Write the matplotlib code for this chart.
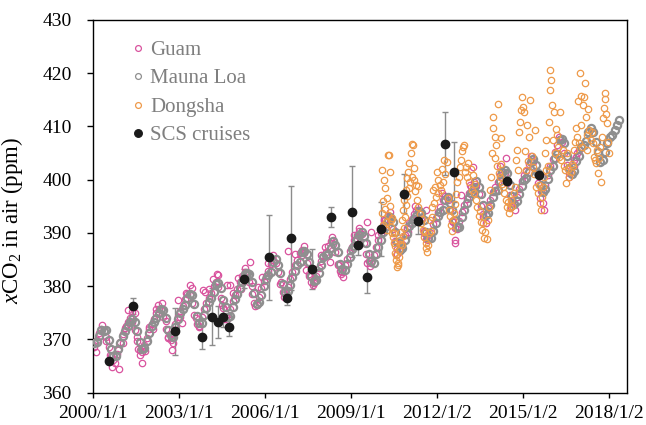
import numpy as np
import matplotlib
matplotlib.use("Agg")
import matplotlib.pyplot as plt

plt.rcParams['font.family'] = ['Liberation Serif', 'DejaVu Serif']
plt.rcParams['mathtext.fontset'] = 'custom'
plt.rcParams['mathtext.rm'] = 'Liberation Serif'
plt.rcParams['mathtext.it'] = 'Liberation Serif:italic'

# Mauna Loa monthly xCO2 (ppm), Jan 2000 - May 2018
mlo_vals = [
    369.25, 369.50, 370.56, 371.82, 371.51, 371.71, 369.85, 368.20, 366.91, 366.91, 368.16, 369.34,
    370.65, 371.52, 372.52, 373.37, 373.83, 373.19, 371.51, 369.61, 368.18, 368.45, 369.76, 371.24,
    372.53, 373.20, 374.12, 375.02, 375.76, 375.52, 374.01, 371.85, 370.75, 370.55, 372.25, 373.79,
    374.88, 375.64, 376.45, 377.73, 378.60, 378.28, 376.70, 374.38, 373.17, 373.14, 374.66, 375.99,
    377.00, 377.87, 378.88, 380.35, 380.62, 379.69, 377.47, 376.01, 374.25, 374.46, 376.16, 377.51,
    378.46, 379.73, 380.77, 382.29, 382.45, 382.21, 380.74, 378.74, 376.70, 377.00, 378.35, 380.11,
    381.38, 382.19, 382.67, 384.61, 385.03, 384.05, 382.46, 380.41, 378.85, 379.13, 380.15, 381.82,
    382.89, 383.90, 384.58, 386.50, 386.56, 386.10, 384.50, 381.99, 380.96, 381.12, 382.45, 383.95,
    385.52, 385.82, 386.03, 387.21, 388.54, 387.76, 386.36, 384.09, 383.18, 382.99, 384.19, 385.56,
    386.94, 387.48, 388.82, 389.55, 390.14, 389.48, 388.03, 386.11, 384.74, 384.43, 386.02, 387.42,
    388.71, 390.20, 391.17, 392.46, 393.00, 392.15, 390.20, 388.35, 386.85, 387.24, 388.67, 389.79,
    391.33, 391.86, 392.60, 393.25, 394.19, 393.74, 392.51, 390.13, 389.08, 389.00, 390.28, 391.86,
    393.12, 393.86, 394.40, 396.18, 396.74, 395.71, 394.36, 392.39, 391.11, 391.05, 392.98, 394.34,
    395.55, 396.80, 397.43, 398.41, 399.78, 398.61, 397.32, 395.20, 393.45, 393.70, 395.16, 396.84,
    397.85, 398.01, 399.77, 401.38, 401.78, 401.25, 399.10, 397.03, 395.38, 396.03, 397.28, 398.91,
    399.98, 400.28, 401.54, 403.28, 403.96, 402.80, 401.31, 398.93, 397.63, 398.29, 400.16, 401.85,
    402.56, 404.12, 404.87, 407.45, 407.72, 406.83, 404.41, 402.27, 401.05, 401.59, 403.55, 404.45,
    406.17, 406.46, 407.22, 409.04, 409.69, 408.88, 407.12, 405.13, 403.37, 403.63, 405.12, 406.81,
    407.96, 408.32, 409.41, 410.24, 411.24,
]

# Guam monthly xCO2 (ppm), Jan 2000 - Dec 2016
guam_vals = [
    368.6, 369.9, 371.2, 371.9, 371.6, 370.4, 368.6, 366.8, 366.2, 366.9, 368.1, 369.6,
    371.0, 372.1, 373.2, 374.0, 373.3, 371.8, 369.7, 368.0, 367.6, 368.9, 370.3, 371.9,
    372.9, 373.8, 374.9, 375.8, 375.6, 374.2, 372.0, 370.4, 369.9, 371.3, 372.9, 374.3,
    375.3, 376.3, 377.6, 378.6, 378.4, 376.9, 374.6, 372.9, 372.6, 374.2, 375.7, 376.9,
    377.7, 378.8, 380.1, 380.7, 379.9, 377.8, 375.9, 374.2, 374.1, 375.7, 377.2, 378.3,
    379.5, 380.7, 382.0, 382.6, 382.2, 380.8, 378.6, 376.8, 376.4, 377.9, 379.6, 380.9,
    382.0, 382.8, 384.1, 385.0, 384.4, 382.6, 380.4, 378.9, 378.6, 379.9, 381.4, 382.7,
    383.9, 384.9, 386.2, 386.8, 386.2, 384.3, 382.2, 380.7, 380.6, 381.9, 383.4, 384.8,
    385.7, 386.5, 387.6, 388.4, 387.9, 386.4, 384.2, 382.9, 382.7, 383.9, 385.2, 386.6,
    387.4, 388.6, 389.6, 390.4, 389.8, 388.2, 386.1, 384.7, 384.4, 385.8, 387.3, 388.7,
    389.9, 391.2, 392.5, 393.2, 392.6, 390.7, 388.4, 386.9, 386.6, 388.0, 389.6, 390.9,
    391.9, 392.7, 393.6, 394.3, 393.8, 392.4, 390.3, 388.9, 388.7, 390.0, 391.6, 392.9,
    393.9, 394.9, 396.2, 396.9, 396.1, 394.4, 392.3, 390.9, 390.8, 392.3, 393.9, 395.2,
    396.4, 397.5, 398.6, 399.6, 398.9, 397.3, 395.1, 393.5, 393.3, 394.7, 396.2, 397.6,
    398.6, 399.6, 400.9, 401.7, 401.2, 399.3, 397.1, 395.6, 395.4, 396.8, 398.3, 399.8,
    400.8, 401.7, 402.9, 403.9, 403.4, 401.6, 399.3, 397.8, 397.6, 399.1, 400.9, 402.6,
    403.9, 405.2, 406.6, 407.6, 407.1, 405.1, 402.7, 401.2, 401.0, 402.6, 404.3, 405.6,
]

# additional Guam flask samples scattered around the monthly curve
guam_extra_t = [2000.65, 2000.77, 2000.92, 2001.23, 2001.47, 2001.58, 2001.64, 2001.70,
                2002.28, 2002.75, 2002.98, 2003.10, 2003.38, 2003.85, 2003.91, 2004.32,
                2004.37, 2004.66, 2004.78, 2005.07, 2005.48, 2005.77, 2006.81, 2007.28,
                2007.45, 2008.27, 2008.73, 2009.55, 2009.55, 2009.72, 2011.00, 2011.64,
                2012.63, 2012.65, 2012.86, 2013.27, 2013.73, 2014.43, 2014.72, 2015.71,
                2015.73, 2016.80, 2016.90,
                2000.12, 2000.30, 2000.45, 2000.58, 2000.85, 2001.05, 2001.15, 2001.35,
                2001.55, 2001.80, 2001.95, 2002.10, 2002.20, 2002.40, 2002.55, 2002.62,
                2002.80, 2003.05, 2003.25, 2003.45, 2003.60, 2003.70, 2004.05, 2004.20,
                2004.50, 2004.62, 2004.90, 2005.15, 2005.30, 2005.55, 2005.65, 2005.90,
                2006.10, 2006.30, 2006.55, 2006.65, 2007.05, 2007.35, 2007.55, 2007.68,
                2007.95, 2008.10, 2008.35, 2008.55, 2008.65, 2009.10, 2009.30, 2009.62,
                2009.68, 2009.95, 2010.15, 2010.35, 2010.60, 2011.25, 2011.55, 2012.20,
                2012.55, 2013.15, 2013.60, 2014.20, 2014.58, 2015.30, 2015.62, 2016.25,
                2016.62]
guam_extra_v = [364.9, 365.5, 364.4, 375.5, 374.9, 368.3, 367.1, 365.5,
                376.5, 368.0, 377.4, 373.0, 380.2, 379.3, 379.0, 382.3,
                382.1, 380.2, 380.2, 381.5, 384.6, 379.9, 386.6, 385.9,
                383.0, 384.6, 381.8, 392.1, 384.3, 390.2, 390.2, 394.3,
                388.7, 388.2, 397.1, 402.4, 391.8, 404.0, 394.3, 395.6,
                394.4, 403.7, 405.0,
                367.6, 372.8, 369.8, 367.0, 367.2, 369.3, 372.6, 375.2,
                370.5, 367.9, 372.3, 372.0, 375.8, 376.8, 373.5, 370.3,
                369.3, 374.2, 378.8, 379.6, 374.1, 372.3, 379.5, 381.3,
                376.5, 373.8, 378.8, 379.5, 383.4, 380.0, 376.2, 381.8,
                384.3, 385.8, 380.8, 378.0, 386.0, 387.5, 382.0, 380.2,
                385.8, 387.4, 389.2, 384.0, 382.2, 389.7, 391.0, 386.0,
                383.8, 389.6, 392.4, 394.0, 386.0, 395.0, 390.0, 397.5,
                392.0, 399.0, 393.0, 402.5, 394.8, 404.5, 396.5, 408.0,
                400.5]

# Dongsha station samples: decimal year, xCO2 (ppm)
dongsha_t = [
    2010.08, 2010.10, 2010.12, 2010.14, 2010.17, 2010.19, 2010.21, 2010.23, 2010.25, 2010.27,
    2010.29, 2010.31, 2010.33, 2010.35, 2010.37, 2010.39, 2010.41, 2010.43, 2010.45, 2010.47,
    2010.49, 2010.51, 2010.53, 2010.55, 2010.57, 2010.59, 2010.61, 2010.63, 2010.65, 2010.67,
    2010.69, 2010.71, 2010.73, 2010.75, 2010.77, 2010.79, 2010.81, 2010.83, 2010.85, 2010.87,
    2010.89, 2010.91, 2010.93, 2010.95, 2010.97, 2011.00, 2011.02, 2011.04, 2011.06, 2011.09,
    2011.12, 2011.15, 2011.17, 2011.19, 2011.22, 2011.24, 2011.27, 2011.30, 2011.33, 2011.36,
    2011.40, 2011.44, 2011.48, 2011.52, 2011.55, 2011.58, 2011.61, 2011.64, 2011.67, 2011.70,
    2011.73, 2011.76, 2011.79, 2011.82, 2011.85, 2011.88, 2011.91, 2011.94, 2011.97, 2012.00,
    2012.03, 2012.06, 2012.10, 2012.14, 2012.18, 2012.22, 2012.26, 2012.30, 2012.34, 2012.38,
    2012.42, 2012.46, 2012.50, 2012.53, 2012.56, 2012.60, 2012.64, 2012.68, 2012.72, 2012.76,
    2012.80, 2012.84, 2012.88, 2012.92, 2012.95, 2012.98, 2013.02, 2013.06, 2013.10, 2013.14,
    2013.18, 2013.22, 2013.26, 2013.30, 2013.34, 2013.38, 2013.42, 2013.46, 2013.50, 2013.54,
    2013.58, 2013.62, 2013.66, 2013.70, 2013.74, 2013.78, 2013.82, 2013.86, 2013.90, 2013.93,
    2013.96, 2013.98, 2014.02, 2014.05, 2014.08, 2014.11, 2014.14, 2014.17, 2014.20, 2014.23,
    2014.25, 2014.28, 2014.32, 2014.36, 2014.40, 2014.44, 2014.48, 2014.52, 2014.56, 2014.60,
    2014.64, 2014.68, 2014.72, 2014.76, 2014.80, 2014.84, 2014.88, 2014.92, 2014.95, 2014.98,
    2015.02, 2015.05, 2015.08, 2015.11, 2015.15, 2015.19, 2015.23, 2015.27, 2015.31, 2015.35,
    2015.40, 2015.44, 2015.48, 2015.52, 2015.56, 2015.60, 2015.64, 2015.68, 2015.71, 2015.74,
    2015.77, 2015.80, 2015.83, 2015.87, 2015.91, 2015.94, 2015.97, 2016.00, 2016.03, 2016.06,
    2016.09, 2016.12, 2016.16, 2016.20, 2016.23, 2016.27, 2016.31, 2016.35, 2016.39, 2016.43,
    2016.47, 2016.51, 2016.55, 2016.59, 2016.63, 2016.67, 2016.71, 2016.75, 2016.79, 2016.83,
    2016.87, 2016.90, 2016.93, 2016.96, 2016.99, 2017.02, 2017.05, 2017.08, 2017.11, 2017.14,
    2017.17, 2017.20, 2017.23, 2017.26, 2017.29, 2017.33, 2017.37, 2017.41, 2017.45, 2017.48,
    2017.51, 2017.55, 2017.58, 2017.62, 2017.66, 2017.70, 2017.75, 2017.78, 2017.81, 2017.84,
    2017.87, 2017.89, 2017.92, 2017.95, 2017.98, 2018.01,
]
dongsha_v = [
    393.8, 401.8, 396.0, 391.5, 399.9, 394.5, 398.4, 392.0, 396.6, 390.5,
    393.4, 404.6, 404.7, 401.5, 395.0, 392.4, 391.2, 389.9, 392.8, 389.3,
    388.1, 390.0, 386.2, 387.5, 384.9, 385.8, 383.7, 384.3, 383.9, 385.5,
    386.8, 388.0, 388.7, 390.2, 387.8, 392.4, 389.5, 394.3, 391.0, 396.2,
    393.0, 398.1, 395.2, 400.3, 397.0, 401.5, 398.5, 403.1, 399.6, 405.0,
    400.5, 406.8, 406.5, 402.2, 400.0, 397.8, 399.0, 396.2, 398.8, 394.9,
    393.5, 391.8, 392.6, 390.6, 389.3, 390.2, 388.1, 387.2, 386.5, 387.8,
    389.9, 392.4, 390.3, 394.8, 393.0, 398.1, 395.6, 398.7, 396.8, 401.5,
    397.5, 400.0, 399.0, 398.1, 402.0, 399.5, 403.7, 401.0, 403.4, 396.5,
    394.3, 393.1, 391.5, 390.4, 392.5, 393.8, 395.5, 397.3, 399.6, 400.6,
    402.4, 403.7, 405.3, 406.2, 406.6, 401.5, 402.4, 400.6, 403.1, 399.6,
    402.0, 398.1, 400.8, 397.5, 399.2, 396.2, 394.9, 393.1, 394.2, 392.0,
    390.6, 391.8, 389.0, 390.2, 388.8, 392.5, 394.9, 398.0, 400.5, 405.0,
    409.7, 411.8, 408.0, 404.0, 406.5, 402.5, 414.3, 401.2, 400.6, 407.9,
    403.0, 399.2, 398.7, 397.5, 396.2, 394.9, 395.8, 393.7, 394.6, 396.2,
    395.0, 397.5, 398.7, 403.7, 405.6, 401.8, 409.0, 410.9, 413.0, 415.6,
    413.7, 412.8, 405.3, 401.8, 410.3, 403.5, 408.0, 415.0, 404.5, 402.4,
    401.0, 409.3, 398.7, 397.5, 399.0, 395.6, 394.3, 396.8, 398.7, 400.6,
    405.0, 401.8, 407.5, 402.5, 410.9, 420.6, 416.9, 418.7, 414.1, 407.5,
    412.8, 405.0, 409.5, 408.4, 406.2, 404.3, 412.8, 403.7, 405.5, 402.5,
    401.8, 399.3, 405.0, 402.0, 400.5, 401.5, 403.0, 402.5, 405.5, 407.0,
    409.7, 408.1, 414.7, 406.9, 420.1, 410.3, 415.8, 406.2, 414.0, 415.6,
    418.2, 411.8, 408.4, 405.6, 413.2, 409.3, 407.5, 409.0, 406.9, 404.3,
    403.7, 403.1, 405.6, 401.2, 404.0, 406.2, 399.6, 408.1, 411.5, 413.4,
    416.3, 415.1, 412.3, 410.7, 407.0, 405.0,
]

# SCS cruise means with standard deviations
scs_t = [2000.56, 2001.38, 2002.87, 2003.79, 2004.15, 2004.36, 2004.54, 2004.73,
         2005.28, 2006.14, 2006.77, 2006.90, 2007.66, 2008.31, 2009.03, 2009.25,
         2009.57, 2010.05, 2010.85, 2011.36, 2012.28, 2012.60, 2014.44, 2015.56]
scs_v = [365.9, 376.3, 371.5, 370.4, 374.3, 373.3, 374.3, 372.4,
         381.4, 385.4, 377.7, 389.0, 383.2, 393.0, 394.0, 387.7,
         381.8, 390.8, 397.4, 392.3, 406.8, 401.5, 399.8, 400.9]
scs_sd = [0.0, 1.5, 4.5, 2.2, 5.4, 3.0, 2.0, 1.8,
          1.8, 8.0, 1.3, 9.8, 3.8, 1.9, 8.5, 1.8,
          3.0, 5.1, 3.6, 2.5, 5.9, 5.6, 0.0, 0.0]

tick_labels = ['2000/1/1', '2003/1/1', '2006/1/1', '2009/1/1',
               '2012/1/2', '2015/1/2', '2018/1/2']


def to_days(yr):
    # decimal year -> days since 2000/1/1
    return (np.asarray(yr) - 2000.0) * 365.25


mlo_t = 2000 + (np.arange(len(mlo_vals)) + 0.5) / 12
guam_t = 2000 + (np.arange(len(guam_vals)) + 0.5) / 12

fig = plt.figure(figsize=(6.46, 4.25), dpi=100)
ax = fig.add_axes([0.144, 0.076, 0.827, 0.877])

pink = '#d9539e'
ax.plot(to_days(guam_t), guam_vals, 'o', ms=4.6, mfc='none', mec=pink, mew=0.9,
        label='Guam', zorder=2)
ax.plot(to_days(guam_extra_t), guam_extra_v, 'o', ms=4.6, mfc='none', mec=pink,
        mew=0.9, zorder=2)
ax.plot(to_days(mlo_t), mlo_vals, 'o', ms=5.2, mfc='none', mec='#8f8f8f', mew=1.6,
        label='Mauna Loa', zorder=3)
ax.plot(to_days(dongsha_t), dongsha_v, 'o', ms=4.6, mfc='none', mec='#ee9a4a', mew=0.9,
        label='Dongsha', zorder=4)
ax.errorbar(to_days(scs_t), scs_v, yerr=scs_sd, fmt='none', ecolor='#8c8c8c',
            elinewidth=1.0, capsize=2, capthick=1.0, zorder=1)
ax.plot(to_days(scs_t), scs_v, 'o', ms=6, color='#1a1a1a', label='SCS cruises', zorder=5)

ax.set_ylim(360, 430)
ax.set_yticks(np.arange(360, 431, 10))
ax.set_xlim(0, 6812)
ax.set_xticks(np.arange(len(tick_labels)) * 1096)
ax.set_xticklabels(tick_labels)
ax.tick_params(axis='both', direction='out', labelsize=14, width=1)
ax.tick_params(axis='y', length=4.3, pad=11)
ax.tick_params(axis='x', length=3.6, pad=5)
for sp in ax.spines.values():
    sp.set_linewidth(1.0)

ax.set_ylabel(r'$x$CO$_2$ in air (ppm)', fontsize=16.5)
ax.yaxis.set_label_coords(-0.127, 0.461)

leg = ax.legend(loc='upper left', bbox_to_anchor=(0.05, 0.968), frameon=False,
                fontsize=15, handletextpad=0.1, labelspacing=0.43, borderaxespad=0,
                handlelength=0.95)
for h in leg.legend_handles:
    h.set_markersize(4.2)
    h.set_markeredgewidth(0.9)
leg.legend_handles[3].set_markersize(5.5)
for txt in leg.get_texts():
    txt.set_color('#7f7f7f')

fig.savefig('out.png', dpi=100)
